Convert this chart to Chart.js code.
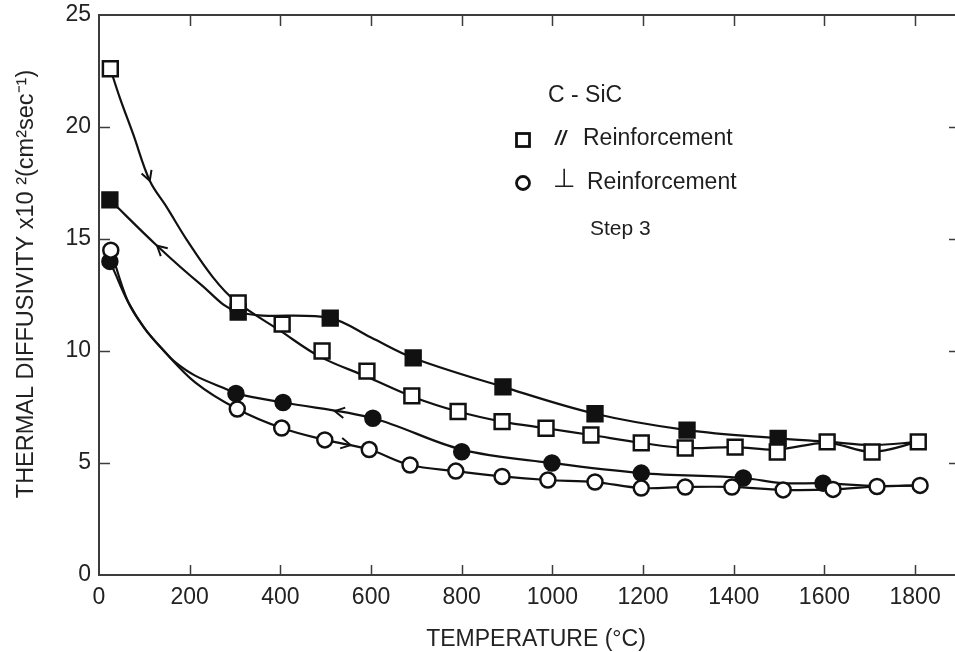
<!DOCTYPE html>
<html>
<head>
<meta charset="utf-8">
<script src="https://cdn.jsdelivr.net/npm/chart.js"></script>
<style>
    body { margin: 0; background: #fff; }
    .chart-container { position: relative; width: 955px; height: 652px; }
</style>
</head>
<body>
<div class="chart-container">
    <canvas id="diffChart"></canvas>
</div>

<script>
    // tick labels
    var xTicks = [0, 200, 400, 600, 800, 1000, 1200, 1400, 1600, 1800];
    var yTicks = [0, 5, 10, 15, 20, 25];

    // parallel reinforcement, heating (open squares)
    var sqOpenT = [25, 307, 404, 492, 591, 690, 792, 889, 986, 1085, 1196, 1293, 1403, 1496, 1606, 1705, 1807];
    var sqOpenD = [22.6, 12.15, 11.2, 10.0, 9.1, 8.0, 7.3, 6.85, 6.55, 6.25, 5.9, 5.67, 5.71, 5.49, 5.94, 5.49, 5.94];
    // parallel reinforcement, cooling (filled squares)
    var sqFillT = [24, 307, 510, 693, 891, 1094, 1297, 1498];
    var sqFillD = [16.75, 11.74, 11.47, 9.69, 8.4, 7.2, 6.47, 6.1];
    // perpendicular reinforcement, heating (open circles)
    var ciOpenT = [26, 305, 403, 498, 596, 686, 787, 889, 990, 1094, 1196, 1293, 1396, 1509, 1619, 1716, 1811];
    var ciOpenD = [14.5, 7.41, 6.56, 6.03, 5.6, 4.91, 4.64, 4.4, 4.24, 4.15, 3.88, 3.93, 3.93, 3.8, 3.82, 3.95, 4.0];
    // perpendicular reinforcement, cooling (filled circles)
    var ciFillT = [24, 302, 406, 604, 800, 999, 1196, 1421, 1597];
    var ciFillD = [14.0, 8.1, 7.7, 7.0, 5.5, 5.0, 4.55, 4.33, 4.1];

    // drawn curves
    var cSqOpenT = [25, 46, 75, 112, 150, 194, 251, 300, 400, 487, 591, 693, 792, 889, 986, 1085, 1196, 1293, 1403, 1496, 1606, 1705, 1807];
    var cSqOpenD = [22.6, 21.3, 19.7, 17.6, 16.4, 14.95, 13.3, 12.25, 10.9, 9.75, 8.85, 7.95, 7.3, 6.85, 6.55, 6.25, 5.9, 5.67, 5.71, 5.6, 5.9, 5.5, 5.94];
    var cSqFillT = [24, 128, 223, 307, 510, 600, 693, 891, 1094, 1297, 1498, 1606, 1705, 1807];
    var cSqFillD = [16.75, 14.7, 13.0, 11.74, 11.47, 10.6, 9.69, 8.4, 7.2, 6.47, 6.1, 5.95, 5.8, 5.94];
    var cCiOpenT = [26, 64, 101, 139, 212, 305, 403, 498, 596, 686, 787, 889, 990, 1094, 1196, 1293, 1396, 1509, 1619, 1716, 1811];
    var cCiOpenD = [14.5, 12.2, 11.0, 10.1, 8.6, 7.41, 6.56, 6.03, 5.6, 4.91, 4.64, 4.4, 4.24, 4.15, 3.88, 3.93, 3.93, 3.8, 3.82, 3.95, 4.0];
    var cCiFillT = [24, 35, 64, 101, 139, 168, 212, 285, 302, 406, 604, 800, 999, 1196, 1421, 1509, 1597, 1716, 1811];
    var cCiFillD = [14.0, 13.5, 12.2, 11.0, 10.1, 9.5, 8.9, 8.26, 8.1, 7.7, 7.0, 5.6, 5.0, 4.55, 4.33, 4.1, 4.1, 3.97, 4.0];

    // arrow heads: [tip T, tip D, from T, from D]
    var arrows = [
        [112, 17.6, 75, 19.7],
        [128, 14.7, 223, 13.0],
        [520, 7.32, 604, 7.0],
        [555, 5.8, 498, 6.03]
    ];

    var xTitle = 'TEMPERATURE (°C)';
    var yTitle = 'THERMAL DIFFUSIVITY x10 \u00B2(cm\u00B2sec\u207B\u00B9)';

    var FONT = '"Liberation Sans", Arial, sans-serif';

    function pts(xs, ys) {
        return xs.map(function(v, i) { return { x: v, y: ys[i] }; });
    }

    function curve(xs, ys) {
        return {
            data: pts(xs, ys),
            showLine: true,
            borderColor: '#111',
            borderWidth: 2.2,
            pointRadius: 0,
            tension: 0.35,
            order: 2
        };
    }

    function markers(xs, ys, style, fill) {
        return {
            data: pts(xs, ys),
            showLine: false,
            pointStyle: style,
            pointRadius: style === 'rect' ? 10.5 : 7.5,
            pointBorderWidth: 2.5,
            pointBorderColor: '#111',
            pointBackgroundColor: fill,
            order: 1
        };
    }

    // frame, inward ticks, arrows, axis titles and the text key
    var decorations = {
        id: 'decorations',
        afterDraw: function(chart) {
            var ctx = chart.ctx, a = chart.chartArea;
            var sx = chart.scales.x, sy = chart.scales.y;
            ctx.save();
            ctx.strokeStyle = '#3c3c3c';
            ctx.lineWidth = 2;
            ctx.beginPath();
            ctx.moveTo(a.right, a.top);
            ctx.lineTo(a.left, a.top);
            ctx.lineTo(a.left, a.bottom);
            ctx.lineTo(a.right, a.bottom);
            ctx.stroke();

            ctx.lineWidth = 1.5;
            ctx.beginPath();
            xTicks.forEach(function(v) {
                if (v === 0) return;
                var px = Math.round(sx.getPixelForValue(v)) + 0.5;
                ctx.moveTo(px, a.bottom);
                ctx.lineTo(px, a.bottom - 10);
                ctx.moveTo(px, a.top);
                ctx.lineTo(px, a.top + 11);
            });
            yTicks.forEach(function(v) {
                if (v === 0 || v === 25) return;
                var py = Math.round(sy.getPixelForValue(v)) + 0.5;
                ctx.moveTo(a.left, py);
                ctx.lineTo(a.left + 11, py);
                ctx.moveTo(a.right, py);
                ctx.lineTo(a.right - 6, py);
            });
            ctx.stroke();

            // arrow heads on the curves
            ctx.strokeStyle = '#111';
            ctx.lineWidth = 2;
            arrows.forEach(function(ar) {
                var tx = sx.getPixelForValue(ar[0]), ty = sy.getPixelForValue(ar[1]);
                var fx = sx.getPixelForValue(ar[2]), fy = sy.getPixelForValue(ar[3]);
                var ang = Math.atan2(ty - fy, tx - fx);
                var L = 11, spread = 0.5;
                ctx.beginPath();
                ctx.moveTo(tx + L * Math.cos(ang + Math.PI - spread), ty + L * Math.sin(ang + Math.PI - spread));
                ctx.lineTo(tx, ty);
                ctx.lineTo(tx + L * Math.cos(ang + Math.PI + spread), ty + L * Math.sin(ang + Math.PI + spread));
                ctx.stroke();
            });

            // axis titles
            ctx.fillStyle = '#222';
            ctx.textBaseline = 'middle';
            ctx.textAlign = 'center';
            ctx.font = '23px ' + FONT;
            ctx.fillText(xTitle, 536, 640);
            ctx.save();
            ctx.translate(27, 284);
            ctx.rotate(-Math.PI / 2);
            ctx.font = '23.5px ' + FONT;
            ctx.fillText(yTitle, 0, 0);
            ctx.restore();

            // key
            ctx.fillStyle = '#1e1e1e';
            ctx.textAlign = 'left';
            ctx.font = '23px ' + FONT;
            ctx.fillText('C - SiC', 548, 96);
            ctx.fillText('Reinforcement', 583, 139);
            ctx.fillText('Reinforcement', 587, 183);
            ctx.font = '21px ' + FONT;
            ctx.fillText('Step 3', 590, 229);

            ctx.lineWidth = 2.8;
            ctx.strokeStyle = '#111';
            ctx.strokeRect(516.5, 133.5, 13, 13);
            ctx.beginPath();
            ctx.arc(523, 183, 6.5, 0, 2 * Math.PI);
            ctx.stroke();

            ctx.font = 'italic bold 20px ' + FONT;
            ctx.fillText('//', 555, 139);
            ctx.font = '26px "DejaVu Sans", sans-serif';
            ctx.fillText('\u22A5', 553, 180);
            ctx.restore();
        }
    };

    var ctx = document.getElementById('diffChart').getContext('2d');
    window.diffChart = new Chart(ctx, {
        type: 'scatter',
        data: {
            datasets: [
                curve(cSqOpenT, cSqOpenD),
                curve(cSqFillT, cSqFillD),
                curve(cCiOpenT, cCiOpenD),
                curve(cCiFillT, cCiFillD),
                markers(sqOpenT, sqOpenD, 'rect', '#fff'),
                markers(sqFillT, sqFillD, 'rect', '#111'),
                markers(ciOpenT, ciOpenD, 'circle', '#fff'),
                markers(ciFillT, ciFillD, 'circle', '#111')
            ]
        },
        options: {
            responsive: true,
            maintainAspectRatio: false,
            animation: false,
            events: [],
            layout: {
                autoPadding: false,
                padding: { top: 15, right: 0, left: 0, bottom: 0 }
            },
            plugins: {
                legend: { display: false },
                tooltip: { enabled: false }
            },
            scales: {
                x: {
                    type: 'linear',
                    min: 0,
                    max: 1888,
                    afterBuildTicks: function(s) { s.ticks = xTicks.map(function(v) { return { value: v }; }); },
                    afterFit: function(s) { s.height = 77; s.paddingLeft = 0; s.paddingRight = 0; },
                    grid: { display: false, drawTicks: false },
                    border: { display: false },
                    ticks: {
                        font: { size: 23, family: FONT },
                        color: '#222',
                        padding: 9,
                        maxRotation: 0,
                        autoSkip: false,
                        callback: function(v) { return String(v); }
                    }
                },
                y: {
                    type: 'linear',
                    min: 0,
                    max: 25,
                    afterBuildTicks: function(s) { s.ticks = yTicks.map(function(v) { return { value: v }; }); },
                    afterFit: function(s) { s.width = 99; s.paddingTop = 0; s.paddingBottom = 0; },
                    grid: { display: false, drawTicks: false },
                    border: { display: false },
                    ticks: {
                        font: { size: 23, family: FONT },
                        color: '#222',
                        padding: 8,
                        callback: function(v) { return String(v); }
                    }
                }
            }
        },
        plugins: [decorations]
    });
</script>
</body>
</html>
